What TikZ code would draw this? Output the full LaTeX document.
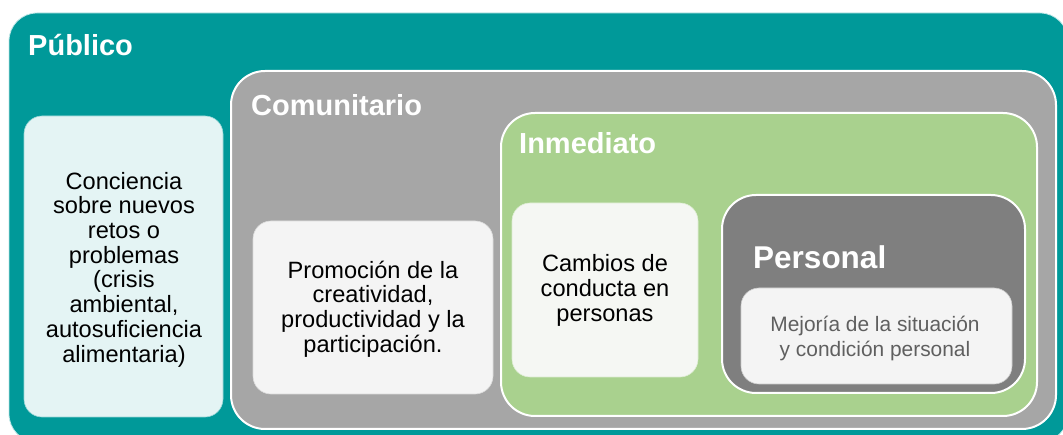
\documentclass[tikz,border=0pt]{standalone}
\usepackage{fontspec}
\setmainfont{Liberation Sans}
\definecolor{publico}{HTML}{009999}
\definecolor{comunitario}{HTML}{A6A6A6}
\definecolor{inmediato}{HTML}{A9D18E}
\definecolor{personal}{HTML}{7F7F7F}
\definecolor{conciencia}{HTML}{E4F4F4}
\definecolor{clara}{HTML}{F4F4F4}
\definecolor{clarav}{HTML}{F5F7F3}
\definecolor{grisletra}{HTML}{5F5F5F}

\begin{document}
\begin{tikzpicture}[x=1pt,y=-1pt,
  nivel/.style={draw=white,line width=2pt,rounded corners=34pt},
  caja/.style={draw=white!60!#1,line width=0.6pt,rounded corners=18pt},
  titulo/.style={anchor=base west,inner sep=0pt,text=white,font=\bfseries\fontsize{29}{34}\selectfont},
  texto/.style={align=center,font=\fontsize{23.6}{24.7}\selectfont}]
\useasboundingbox (0,0) rectangle (1063,435);
\begin{scope}
\clip (0,0) rectangle (1063,435);
\draw[fill=publico,draw=white!75!publico,line width=0.8pt,rounded corners=28pt] (9,13) rectangle (1068,442);
\end{scope}
% niveles
\draw[nivel,fill=comunitario] (231,71) rectangle (1056,429);
\draw[nivel,fill=inmediato] (501,113) rectangle (1037,416);
\draw[nivel,fill=personal] (722,195) rectangle (1025,393);
% cajas de texto
\draw[caja=publico,fill=conciencia] (24,116) rectangle (223,417);
\draw[caja=comunitario,fill=clara] (253,221) rectangle (493,394);
\draw[caja=inmediato,fill=clarav] (512,203) rectangle (698,377);
\draw[caja=personal,fill=clara] (741,288) rectangle (1012,384);
% titulos
\node[titulo] (publico) at (28,56) {Público};
\node[titulo] (comunitario) at (251,116) {Comunitario};
\node[titulo] (inmediato) at (519,154) {Inmediato};
\node[titulo,font=\bfseries\fontsize{31.5}{36}\selectfont] (personal) at (753,269) {Personal};
% textos
\node[texto] (conciencia) at (124,269.5) {Conciencia\\sobre nuevos\\retos o\\problemas\\(crisis\\ambiental,\\autosuficiencia\\alimentaria)};
\node[texto] (promocion) at (373,309) {Promoción de la\\creatividad,\\productividad y la\\participación.};
\node[texto] (cambios) at (605,290.5) {Cambios de\\conducta en\\personas};
\node[texto,text=grisletra,font=\fontsize{20.9}{25}\selectfont] (mejoria) at (875,338) {Mejoría de la situación\\y condición personal};
\end{tikzpicture}
\end{document}
